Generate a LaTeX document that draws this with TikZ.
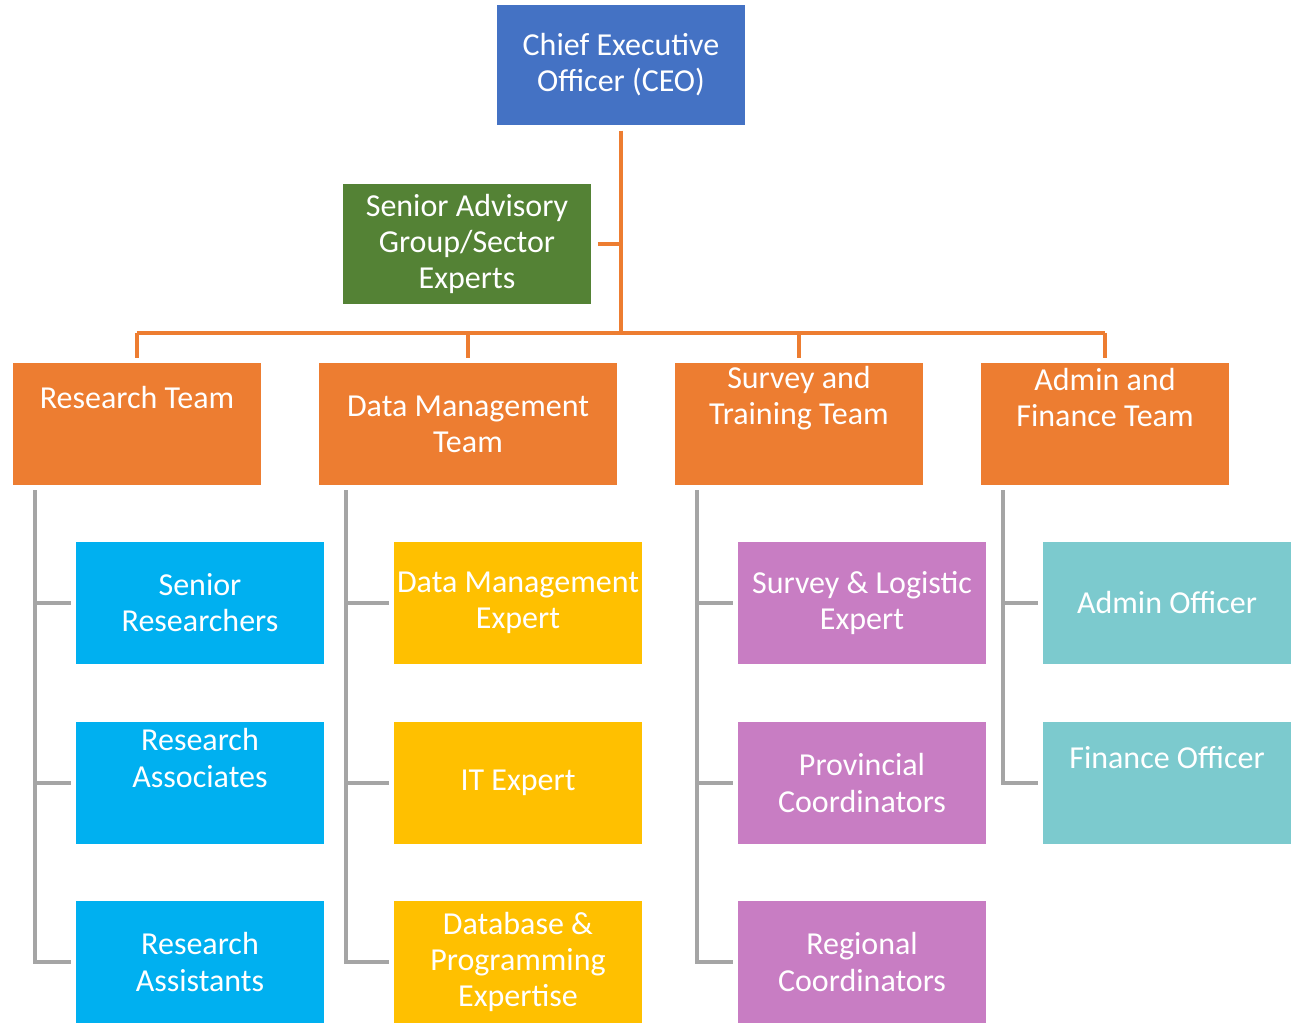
\documentclass[tikz,border=0pt]{standalone}
\usepackage{fontspec}
\setmainfont{Carlito}
\usetikzlibrary{calc}
\definecolor{ceoblue}{HTML}{4472C4}
\definecolor{advgreen}{HTML}{548235}
\definecolor{teamorange}{HTML}{ED7D31}
\definecolor{resblue}{HTML}{00B0F0}
\definecolor{datayellow}{HTML}{FFC000}
\definecolor{survpink}{HTML}{C87DC3}
\definecolor{adminteal}{HTML}{7CCACE}
\definecolor{railgray}{HTML}{A5A5A5}
\tikzset{
  box/.style={inner sep=0pt, minimum width=2.48cm, minimum height=1.21cm},
  tx/.style={text=white, align=center, inner sep=0pt, font=\fontsize{9.1}{10.25}\selectfont},
  orgline/.style={draw=teamorange, line width=0.04cm},
  subline/.style={draw=railgray, line width=0.04cm}
}

\begin{document}
\begin{tikzpicture}[x=0.01cm, y=-0.01cm]
			%%%%% START %%%%%
			\useasboundingbox (0,0) rectangle (1300,1031);
			
			% top
			\node[box, fill=ceoblue, minimum height=1.20cm] (ceo) at (621,65) {};
			\node[tx] (ceo-t) at (ceo) {Chief Executive\\Officer (CEO)};
			\node[box, fill=advgreen, minimum height=1.20cm] (adv) at (467,244) {};
			\node[tx] (adv-t) at (adv) {Senior Advisory\\Group/Sector\\Experts};
			
			% teams
			\node[box, fill=teamorange] (rt) at (137,424) {};
			\node[tx] (rt-t) at ([yshift=0.26cm]rt.center) {Research Team};
			\node[box, fill=teamorange, minimum width=2.98cm] (dmt) at (468,424) {};
			\node[tx] (dmt-t) at (dmt) {Data Management\\Team};
			\node[box, fill=teamorange] (stt) at (799,424) {};
			\node[tx] (stt-t) at ([yshift=0.26cm]stt.center) {Survey and\\Training Team};
			\node[box, fill=teamorange] (aft) at (1105,424) {};
			\node[tx] (aft-t) at ([yshift=0.26cm]aft.center) {Admin and\\Finance Team};
			
			% research
			\node[box, fill=resblue] (sr) at (200,603) {};
			\node[tx] (sr-t) at (sr) {Senior\\Researchers};
			\node[box, fill=resblue] (ra) at (200,783) {};
			\node[tx] (ra-t) at ([yshift=0.25cm]ra.center) {Research\\Associates};
			\node[box, fill=resblue] (ras) at (200,962) {};
			\node[tx] (ras-t) at (ras) {Research\\Assistants};
			
			% data
			\node[box, fill=datayellow] (dme) at (518,603) {};
			\node[tx] (dme-t) at (dme) {Data Management\\Expert};
			\node[box, fill=datayellow] (ite) at (518,783) {};
			\node[tx] (ite-t) at (ite) {IT Expert};
			\node[box, fill=datayellow] (dbp) at (518,962) {};
			\node[tx] (dbp-t) at (dbp) {Database \&\\Programming\\Expertise};
			
			% survey
			\node[box, fill=survpink] (sle) at (862,603) {};
			\node[tx] (sle-t) at (sle) {Survey \& Logistic\\Expert};
			\node[box, fill=survpink] (pc) at (862,783) {};
			\node[tx] (pc-t) at (pc) {Provincial\\Coordinators};
			\node[box, fill=survpink] (rc) at (862,962) {};
			\node[tx] (rc-t) at (rc) {Regional\\Coordinators};
			
			% admin
			\node[box, fill=adminteal] (ao) at (1167,603) {};
			\node[tx] (ao-t) at (ao) {Admin Officer};
			\node[box, fill=adminteal] (fo) at (1167,783) {};
			\node[tx] (fo-t) at ([yshift=0.25cm]fo.center) {Finance Officer};
			
			% orange lines
			\coordinate (bus) at (621,333);
			\draw[orgline] ([yshift=-0.05cm]ceo.south) -- (bus);
			\draw[orgline] ([xshift=0.06cm]adv.east) -- (adv.east -| bus);
			\draw[orgline] (rt.north |- bus) -- (aft.north |- bus);
			\draw[orgline] (rt.north |- bus) -- ([yshift=0.05cm]rt.north);
			\draw[orgline] (dmt.north |- bus) -- ([yshift=0.05cm]dmt.north);
			\draw[orgline] (stt.north |- bus) -- ([yshift=0.05cm]stt.north);
			\draw[orgline] (aft.north |- bus) -- ([yshift=0.05cm]aft.north);
			
			% gray rails
			\coordinate (rt-r) at ([xshift=0.23cm, yshift=-0.05cm]rt.south west);
			\draw[subline] (rt-r) |- ([xshift=-0.04cm]ras.west);
			\draw[subline] (rt-r |- sr.west) -- ([xshift=-0.04cm]sr.west);
			\draw[subline] (rt-r |- ra.west) -- ([xshift=-0.04cm]ra.west);
			
			\coordinate (dmt-r) at ([xshift=0.28cm, yshift=-0.05cm]dmt.south west);
			\draw[subline] (dmt-r) |- ([xshift=-0.04cm]dbp.west);
			\draw[subline] (dmt-r |- dme.west) -- ([xshift=-0.04cm]dme.west);
			\draw[subline] (dmt-r |- ite.west) -- ([xshift=-0.04cm]ite.west);
			
			\coordinate (stt-r) at ([xshift=0.23cm, yshift=-0.05cm]stt.south west);
			\draw[subline] (stt-r) |- ([xshift=-0.04cm]rc.west);
			\draw[subline] (stt-r |- sle.west) -- ([xshift=-0.04cm]sle.west);
			\draw[subline] (stt-r |- pc.west) -- ([xshift=-0.04cm]pc.west);
			
			\coordinate (aft-r) at ([xshift=0.23cm, yshift=-0.05cm]aft.south west);
			\draw[subline] (aft-r) |- ([xshift=-0.04cm]fo.west);
			\draw[subline] (aft-r |- ao.west) -- ([xshift=-0.04cm]ao.west);
			
			%%%%% END %%%%%
\end{tikzpicture}
\end{document}
